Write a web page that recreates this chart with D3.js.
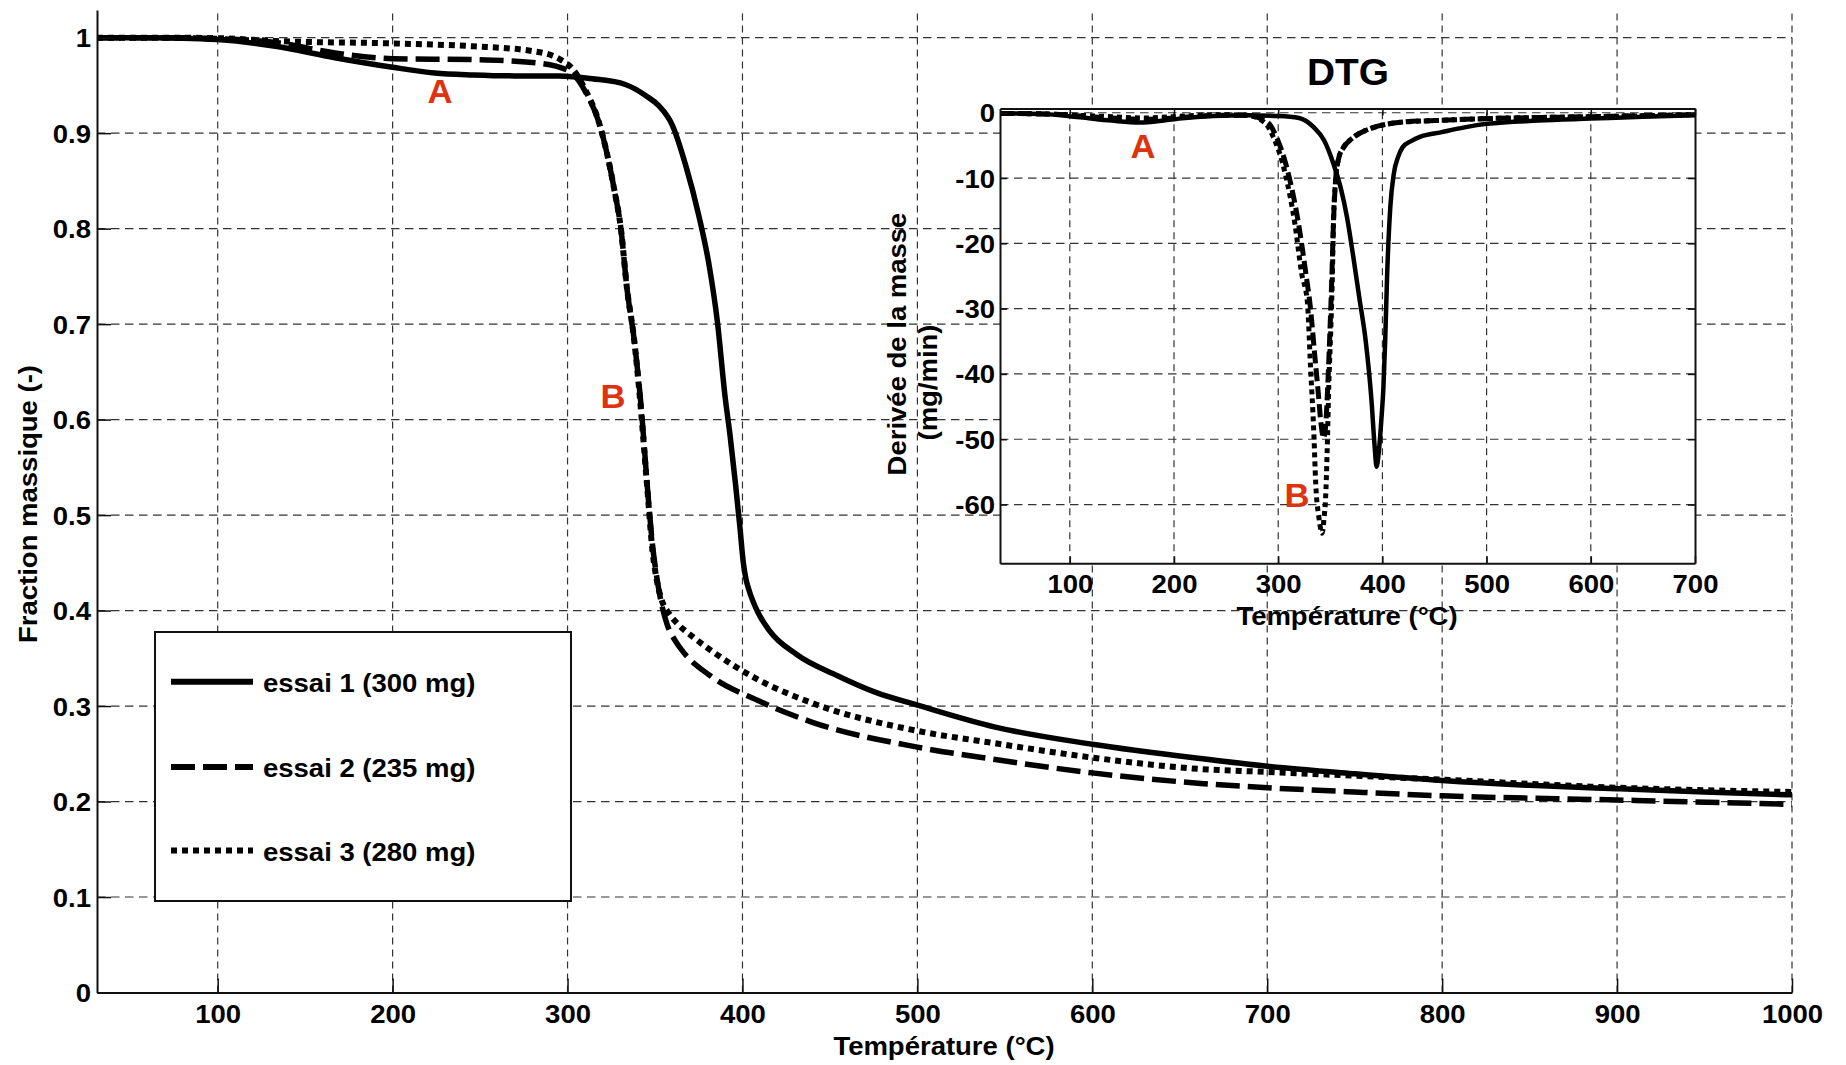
<!DOCTYPE html>
<html><head><meta charset="utf-8">
<script src="https://cdn.jsdelivr.net/npm/d3@7"></script>
<style>html,body{margin:0;padding:0;background:#fff;}svg{display:block;}</style>
</head><body>
<script>
// ---------------- DATA ----------------
const xTicksMain = [100,200,300,400,500,600,700,800,900,1000];
const yTicksMain = [0,0.1,0.2,0.3,0.4,0.5,0.6,0.7,0.8,0.9,1];
const yTickLabelsMain = ["0","0.1","0.2","0.3","0.4","0.5","0.6","0.7","0.8","0.9","1"];
const xTicksDTG = [100,200,300,400,500,600,700];
const yTicksDTG = [-60,-50,-40,-30,-20,-10,0];
const yTickLabelsDTG = ["-60","-50","-40","-30","-20","-10","0"];
const legendLabels = ["essai 1 (300 mg)","essai 2 (235 mg)","essai 3 (280 mg)"];

// TGA: [temperature °C, mass fraction]
const tgaEssai1 = [[31,1.0],[60,1.0],[90,0.999],[100,0.998],[133,0.991],[167,0.979],[200,0.969],[224,0.963],[246,0.961],[270,0.960],[295,0.960],[314,0.957],[333,0.951],[345,0.939],[352,0.929],[360,0.908],[367.6,0.866],[375,0.814],[381,0.761],[385.7,0.702],[390,0.625],[393,0.582],[396,0.533],[398.5,0.488],[400.5,0.450],[402,0.433],[404,0.420],[408.6,0.399],[415.4,0.379],[431,0.354],[454,0.332],[476.6,0.314],[500,0.301],[544.5,0.278],[600,0.260],[662,0.245],[700,0.237],[750,0.229],[800,0.222],[850,0.217],[900,0.2134],[950,0.210],[1000,0.207]];
const tgaEssai2 = [[31,1.0],[70,1.0],[100,0.999],[133,0.995],[167,0.984],[200,0.978],[246,0.977],[280,0.974],[300,0.966],[310.5,0.9425],[318,0.911],[322,0.883],[326.7,0.841],[330.5,0.800],[334,0.737],[338,0.685],[342,0.615],[345.7,0.528],[348.5,0.470],[351,0.435],[354,0.405],[357,0.385],[361,0.370],[366,0.357],[381.4,0.332],[408.6,0.306],[440,0.283],[500,0.257],[544.5,0.244],[600,0.230],[662,0.219],[700,0.2145],[750,0.210],[800,0.206],[900,0.2016],[1000,0.197]];
const tgaEssai3 = [[31,1.0],[70,1.0],[100,0.9995],[133,0.9965],[200,0.994],[246,0.991],[280,0.986],[296,0.977],[303,0.967],[310,0.946],[318,0.911],[322,0.883],[326.7,0.841],[330.5,0.800],[334,0.737],[338,0.685],[341.5,0.620],[345.5,0.530],[348.6,0.462],[351,0.432],[354,0.410],[358,0.397],[363,0.386],[372,0.372],[381.4,0.359],[408.6,0.328],[440,0.303],[500,0.274],[544.5,0.261],[600,0.246],[662,0.234],[700,0.231],[800,0.223],[900,0.2145],[1000,0.210]];

// DTG: [temperature °C, mg/min]
const dtgEssai1 = [[33,-0.1],[60,-0.15],[80,-0.25],[110,-0.7],[140,-1.2],[167,-1.5],[190,-1.2],[205,-0.9],[238,-0.5],[270,-0.4],[300,-0.5],[320,-0.8],[334,-2.2],[344,-4.2],[353,-7.8],[360,-11.5],[366,-16],[372,-22],[378,-28.5],[384,-35],[389.5,-44],[392.5,-51],[394.4,-54.2],[396.5,-52],[399,-47],[401,-42],[402.7,-34.8],[404.5,-25],[407.6,-14.4],[411,-9.3],[415,-6.8],[419.3,-5.3],[428,-4.3],[436,-3.7],[456,-3.0],[480,-2.2],[500,-1.7],[550,-1.2],[600,-0.9],[650,-0.6],[700,-0.4]];
const dtgEssai2 = [[33,-0.1],[80,-0.2],[110,-0.5],[140,-0.8],[170,-1.0],[200,-0.8],[240,-0.4],[270,-0.4],[290,-1.5],[298,-3.6],[310,-9.5],[319,-16.5],[326,-24],[331,-30],[335,-37],[338.5,-43],[341,-47.5],[343.5,-49.8],[345.5,-48],[347.5,-42],[349.5,-34],[351.5,-25],[353,-17],[355,-10.5],[358,-7],[362,-5.5],[372,-3.8],[389,-2.4],[422,-1.4],[450,-1.2],[500,-0.9],[600,-0.6],[700,-0.3]];
const dtgEssai3 = [[33,-0.1],[80,-0.2],[110,-0.4],[140,-0.6],[170,-0.8],[200,-0.6],[240,-0.3],[270,-0.4],[287,-1.5],[295,-3.6],[307,-9.5],[316,-17],[322.5,-24.6],[328,-29],[331,-38.9],[334.2,-49.1],[336,-56.8],[339,-61.9],[342.2,-64.4],[344,-62],[345.4,-59.3],[347,-51.7],[348.6,-41.5],[350.5,-33],[352,-25],[353,-17],[355,-10.5],[358,-7],[362,-5.5],[372,-3.8],[389,-2.4],[422,-1.4],[450,-1.2],[500,-0.9],[600,-0.6],[700,-0.3]];

// ---------------- DRAW ----------------
const W = 1846, H = 1065;
const FONT = "'Liberation Sans', Arial, Helvetica, sans-serif";
const SX = 1.1;
const RED = "#dd3311";
const svg = d3.select("body").append("svg").attr("width", W).attr("height", H);
svg.append("rect").attr("width", W).attr("height", H).attr("fill", "#fff");

function label(g, str, x, y, o = {}) {
  const size = o.size || 25, sx = o.sx || SX;
  return g.append("text")
    .attr("transform", `translate(${x},${y})` + (o.rotate ? ` rotate(${o.rotate})` : "") + ` scale(${sx},1)`)
    .attr("text-anchor", o.anchor || "middle")
    .attr("font-family", FONT).attr("font-weight", "bold")
    .attr("font-size", size).attr("fill", o.fill || "#000").text(str);
}
function styleAxis(g) {
  g.attr("font-family", FONT).attr("font-weight", "bold").attr("font-size", 25);
  g.selectAll(".tick text").attr("fill", "#000");
  g.selectAll(".tick line").attr("stroke", "#111").attr("stroke-width", 1.5);
  g.select(".domain").attr("stroke", "#111").attr("stroke-width", 2);
}
const mainStyles = [
  {dash: null, w: 5.5}, {dash: "24,8", w: 5.5}, {dash: "6,5", w: 6}
];

// ---- main chart ----
const x = d3.scaleLinear().domain([31, 1000]).range([97, 1792]);
const y = d3.scaleLinear().domain([0, 1.029]).range([992.5, 10]);
const main = svg.append("g");

const grid = main.append("g").attr("stroke", "#333").attr("stroke-width", 1.2).attr("fill", "none");
grid.selectAll("line.v").data(xTicksMain).join("line").attr("class", "v")
  .attr("x1", d => x(d)).attr("x2", d => x(d)).attr("y1", y(0)).attr("y2", y(1.029))
  .attr("stroke-dasharray", "7,5");
grid.selectAll("line.h").data(yTicksMain.filter(d => d > 0)).join("line").attr("class", "h")
  .attr("x1", x(31)).attr("x2", x(1000)).attr("y1", d => y(d)).attr("y2", d => y(d))
  .attr("stroke-dasharray", "8.5,5.5");

const lineMain = d3.line().x(d => x(d[0])).y(d => y(d[1])).curve(d3.curveMonotoneX);
[tgaEssai1, tgaEssai2, tgaEssai3].forEach((data, i) => {
  main.append("path").datum(data).attr("d", lineMain)
    .attr("fill", "none").attr("stroke", "#000").attr("stroke-width", mainStyles[i].w)
    .attr("stroke-linejoin", "round")
    .attr("stroke-dasharray", mainStyles[i].dash);
});

const axL = main.append("g").attr("transform", `translate(${x(31)},0)`)
  .call(d3.axisLeft(y).tickValues(yTicksMain).tickFormat((d, i) => yTickLabelsMain[i])
    .tickSizeInner(-14).tickSizeOuter(0).tickPadding(6));
styleAxis(axL);
axL.selectAll(".tick text").attr("x", -6 / SX).attr("dy", "0.36em").attr("transform", `scale(${SX},1)`);

const axB = main.append("g").attr("transform", `translate(0,${y(0)})`)
  .call(d3.axisBottom(x).tickValues(xTicksMain).tickFormat(d3.format("d"))
    .tickSizeInner(-14).tickSizeOuter(0).tickPadding(13));
styleAxis(axB);
axB.selectAll(".tick text").attr("transform", `scale(${SX},1)`);

label(main, "Température (°C)", 944, 1055);
label(main, "Fraction massique (-)", 36.5, 504, {rotate: -90});

// legend
const leg = main.append("g");
leg.append("rect").attr("x", 155).attr("y", 632).attr("width", 416).attr("height", 269)
  .attr("fill", "#fff").attr("stroke", "#111").attr("stroke-width", 2);
const rowY = [681.7, 767, 850.5];
legendLabels.forEach((t, i) => {
  leg.append("line").attr("x1", 171).attr("x2", 253).attr("y1", rowY[i]).attr("y2", rowY[i])
    .attr("stroke", "#000").attr("stroke-width", 6).attr("stroke-dasharray", mainStyles[i].dash);
  label(leg, t, 263, rowY[i] + 10, {anchor: "start", size: 25});
});

label(main, "A", 440, 102.7, {size: 33, sx: 1.05, fill: RED});
label(main, "B", 613, 407.7, {size: 33, sx: 1.05, fill: RED});

// ---- inset DTG ----
const xi = d3.scaleLinear().domain([33, 700]).range([1000, 1695]);
const yi = d3.scaleLinear().domain([-69, 0.65]).range([563.3, 108.5]);
const ins = svg.append("g");
ins.append("rect").attr("x", xi(33)).attr("y", yi(0.65)).attr("width", xi(700) - xi(33))
  .attr("height", yi(-69) - yi(0.65)).attr("fill", "#fff");
const gi = ins.append("g").attr("stroke", "#333").attr("stroke-width", 1.2).attr("fill", "none");
gi.selectAll("line.v").data(xTicksDTG.filter(d => d < 700)).join("line").attr("class", "v")
  .attr("x1", d => xi(d)).attr("x2", d => xi(d)).attr("y1", yi(-69)).attr("y2", yi(0.65))
  .attr("stroke-dasharray", "7,5");
gi.selectAll("line.h").data(yTicksDTG).join("line").attr("class", "h")
  .attr("x1", xi(33)).attr("x2", xi(700)).attr("y1", d => yi(d)).attr("y2", d => yi(d))
  .attr("stroke-dasharray", "8.5,5.5");

ins.append("clipPath").attr("id", "clipIns").append("rect")
  .attr("x", xi(33)).attr("y", yi(0.65)).attr("width", xi(700) - xi(33)).attr("height", yi(-69) - yi(0.65));
const lineIns = d3.line().x(d => xi(d[0])).y(d => yi(d[1])).curve(d3.curveMonotoneX);
const insStyles = [{dash: null, w: 4.5}, {dash: "13,5", w: 5}, {dash: "5,4", w: 5}];
[dtgEssai1, dtgEssai2, dtgEssai3].forEach((data, i) => {
  ins.append("path").datum(data).attr("d", lineIns).attr("clip-path", "url(#clipIns)")
    .attr("fill", "none").attr("stroke", "#000").attr("stroke-width", insStyles[i].w)
    .attr("stroke-linejoin", "round").attr("stroke-dasharray", insStyles[i].dash);
});

const aiL = ins.append("g").attr("transform", `translate(${xi(33)},0)`)
  .call(d3.axisLeft(yi).tickValues(yTicksDTG).tickFormat((d, i) => yTickLabelsDTG[i])
    .tickSizeInner(-7).tickSizeOuter(0).tickPadding(5));
styleAxis(aiL);
aiL.selectAll(".tick text").attr("x", -5 / SX).attr("dy", "0.36em").attr("transform", `scale(${SX},1)`);
const aiB = ins.append("g").attr("transform", `translate(0,${yi(-69)})`)
  .call(d3.axisBottom(xi).tickValues(xTicksDTG).tickFormat(d3.format("d"))
    .tickSizeInner(-7).tickSizeOuter(0).tickPadding(12));
styleAxis(aiB);
aiB.selectAll(".tick text").attr("transform", `scale(${SX},1)`);
const aiT = ins.append("g").attr("transform", `translate(0,${yi(0.65)})`)
  .call(d3.axisTop(xi).tickValues(xTicksDTG).tickFormat("").tickSizeInner(-7).tickSizeOuter(0));
styleAxis(aiT);
const aiR = ins.append("g").attr("transform", `translate(${xi(700)},0)`)
  .call(d3.axisRight(yi).tickValues(yTicksDTG).tickFormat("").tickSizeInner(-7).tickSizeOuter(0));
styleAxis(aiR);

label(ins, "DTG", 1348, 85, {size: 37, sx: 1.05});
label(ins, "Température (°C)", 1347, 625);
label(ins, "Derivée de la masse", 906, 344, {rotate: -90});
label(ins, "(mg/min)", 936.5, 382.5, {rotate: -90});
label(ins, "A", 1143, 158.3, {size: 33, sx: 1.05, fill: RED});
label(ins, "B", 1297, 507.3, {size: 33, sx: 1.05, fill: RED});
</script>
</body></html>
